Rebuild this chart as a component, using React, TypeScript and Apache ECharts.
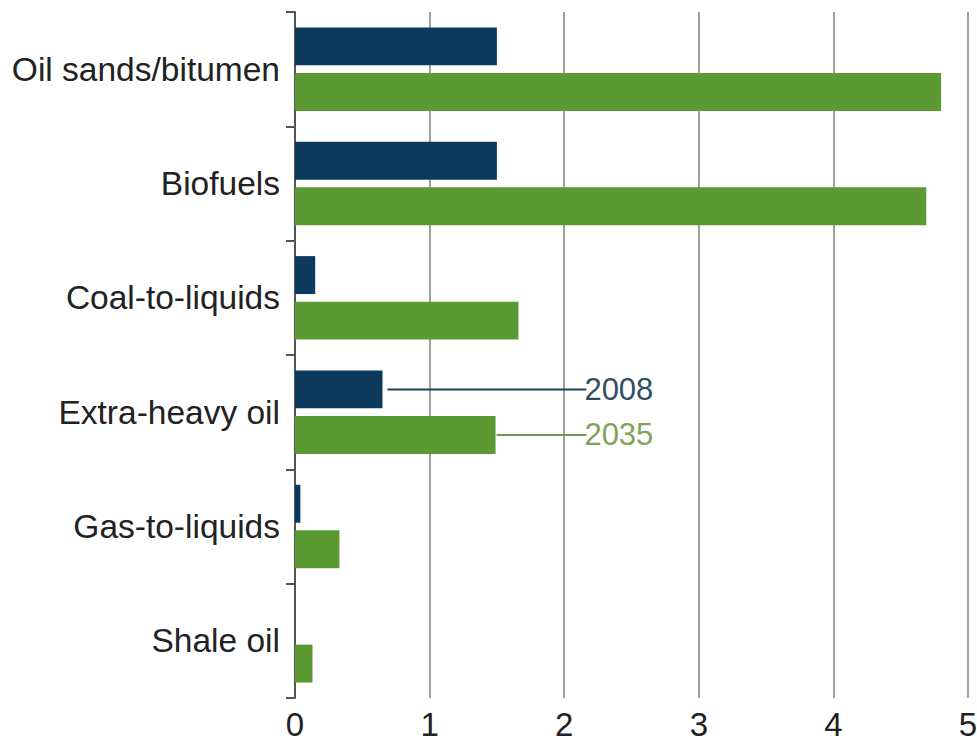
import React, { useEffect, useRef } from "react";
import * as echarts from "echarts";

const categories = [
  "Oil sands/bitumen",
  "Biofuels",
  "Coal-to-liquids",
  "Extra-heavy oil",
  "Gas-to-liquids",
  "Shale oil",
];
const values2008 = [1.5, 1.5, 0.15, 0.65, 0.04, 0];
const values2035 = [4.8, 4.69, 1.66, 1.49, 0.33, 0.13];
const xTicks = [0, 1, 2, 3, 4, 5];
const seriesNames = ["2008", "2035"];
const annotationCategory = 3;
const annotationLabelValue = 2.15;

const NAVY = "#0d3a5c";
const GREEN = "#5b9a32";
const FONT = "'Liberation Sans', Arial, sans-serif";

export default function App() {
  const ref = useRef<HTMLDivElement>(null);

  useEffect(() => {
    if (!ref.current) return;
    const chart = echarts.init(ref.current, null, { renderer: "svg" });
    chart.setOption({
      animation: false,
      backgroundColor: "#ffffff",
      grid: {
        left: 295,
        right: 9,
        top: 12,
        bottom: 48,
        containLabel: false,
        outerBoundsMode: "none",
      },
      xAxis: {
        type: "value",
        min: xTicks[0],
        max: xTicks[xTicks.length - 1],
        interval: 1,
        axisLine: { show: false },
        axisTick: { show: false },
        axisLabel: {
          fontSize: 33,
          color: "#222",
          fontFamily: FONT,
          margin: 10,
          formatter: (v: number) => String(v),
        },
        splitLine: { show: true, lineStyle: { color: "#a0a0a0", width: 2 } },
      },
      yAxis: {
        type: "category",
        inverse: true,
        data: categories,
        axisLine: { show: true, lineStyle: { color: "#555", width: 2 } },
        axisTick: { show: true, length: 9, lineStyle: { color: "#555", width: 2 } },
        axisLabel: {
          fontSize: 33.5,
          color: "#222",
          fontFamily: FONT,
          margin: 15,
        },
        splitLine: { show: false },
      },
      series: [
        {
          name: seriesNames[0],
          type: "bar",
          data: values2008,
          itemStyle: { color: NAVY },
          barGap: "20%",
          barCategoryGap: "27%",
        },
        {
          name: seriesNames[1],
          type: "bar",
          data: values2035,
          itemStyle: { color: GREEN },
          barGap: "20%",
          barCategoryGap: "27%",
        },
      ],
    });

    const elements: any[] = [];
    const model: any = (chart as any).getModel && (chart as any).getModel();
    const textColors = ["#2e4f66", "#7ea35a"];
    const lineColors = ["#1f3f55", "#6f9a4a"];
    const gaps = [5, 1];
    const endPx = chart.convertToPixel({ gridIndex: 0 }, [annotationLabelValue, annotationCategory]) as number[];
    [0, 1].forEach((si) => {
      let layout: any = null;
      try {
        layout = model.getSeriesByIndex(si).getData().getItemLayout(annotationCategory);
      } catch (e) {
        layout = null;
      }
      if (!layout) return;
      const yc = layout.y + layout.height / 2;
      const xs = layout.x + layout.width + gaps[si];
      elements.push({
        type: "line",
        shape: { x1: xs, y1: yc, x2: endPx[0] + 2, y2: yc },
        style: { stroke: lineColors[si], lineWidth: 2 },
        silent: true,
      });
      elements.push({
        type: "text",
        x: endPx[0],
        y: yc,
        style: {
          text: seriesNames[si],
          fill: textColors[si],
          font: `31px ${FONT}`,
          verticalAlign: "middle",
          align: "left",
        },
        silent: true,
      });
    });
    chart.setOption({ graphic: { elements } });

    return () => chart.dispose();
  }, []);

  return (
    <div
      ref={ref}
      style={{ position: "absolute", left: 0, top: 0, width: 977, height: 746 }}
    />
  );
}
